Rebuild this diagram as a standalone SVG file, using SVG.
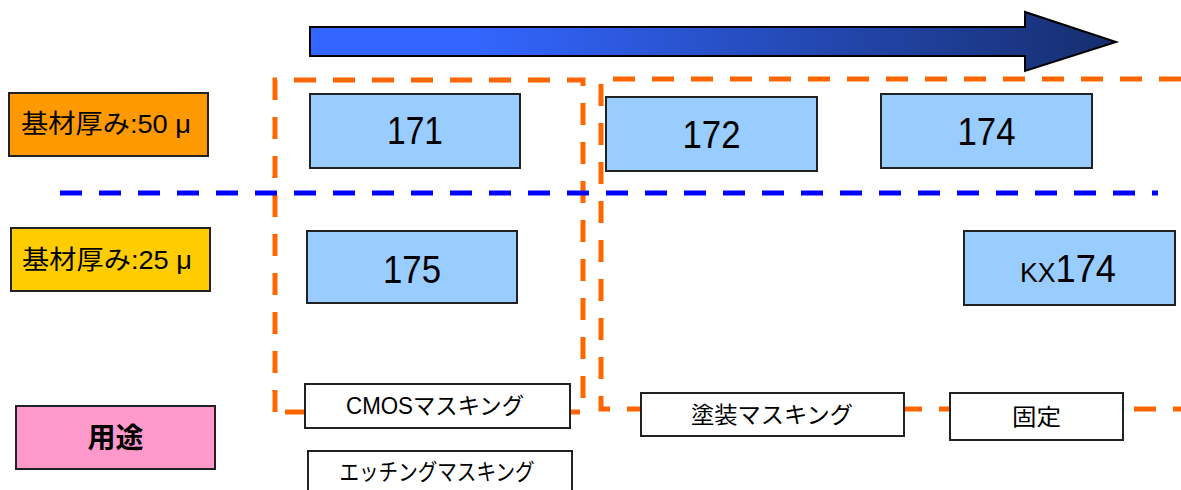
<svg xmlns="http://www.w3.org/2000/svg" width="1181" height="490" viewBox="0 0 1181 490">
<defs>
<linearGradient id="arrowGrad" x1="0" y1="0" x2="1" y2="0">
<stop offset="0" stop-color="#3366FF"/>
<stop offset="0.2" stop-color="#3366FF"/>
<stop offset="1" stop-color="#162E6E"/>
</linearGradient>
</defs>
<style>
.t{font-family:"Liberation Sans","Noto Sans CJK JP",sans-serif;fill:#000}
.num{font-size:38px;text-anchor:middle}
.blue{fill:#99CCFF;stroke:#222;stroke-width:2}
.use{fill:#FFFFFF;stroke:#222;stroke-width:2}
.lab{stroke:#222;stroke-width:2}
.od{fill:none;stroke:#FF6600;stroke-width:5;stroke-dasharray:22 17}
.bd{fill:none;stroke:#0000FF;stroke-width:5;stroke-dasharray:22 17}
.cj{font-size:23px;text-anchor:middle}
</style>
<g id="connectors">
<path class="od" d="M275,412 V80 H583 V412 H275"/>
<path class="od" d="M1181,79 H601 V409 H1181"/>
<path class="bd" d="M60,193 H1158"/>
</g>
<g id="arrow">
<path d="M310,27 H1025 V12 L1116,42 L1025,71 V56 H310 Z" fill="url(#arrowGrad)" stroke="#000" stroke-width="2"/>
</g>
<g id="label50">
<rect class="lab" x="9" y="93" width="199" height="63" fill="#FF9900"/>
<text class="t" x="21" y="133" font-size="26" textLength="170" lengthAdjust="spacingAndGlyphs">基材厚み:50 μ</text>
</g>
<g id="label25">
<rect class="lab" x="11" y="228" width="199" height="63" fill="#FFCC00"/>
<text class="t" x="22" y="269" font-size="26" textLength="170" lengthAdjust="spacingAndGlyphs">基材厚み:25 μ</text>
</g>
<g id="labelUse">
<rect class="lab" x="16" y="406" width="199" height="63" fill="#FF99CC"/>
<text class="t" x="115.5" y="448" font-size="28" font-weight="bold" text-anchor="middle" textLength="56" lengthAdjust="spacingAndGlyphs">用途</text>
</g>
<g id="n171">
<rect class="blue" x="310" y="94" width="210" height="74"/>
<text class="t num" x="415" y="144" textLength="56" lengthAdjust="spacingAndGlyphs">171</text>
</g>
<g id="n172">
<rect class="blue" x="606" y="97" width="211" height="74"/>
<text class="t num" x="711.5" y="148" textLength="58" lengthAdjust="spacingAndGlyphs">172</text>
</g>
<g id="n174">
<rect class="blue" x="881" y="94" width="211" height="74"/>
<text class="t num" x="986.5" y="145" textLength="58" lengthAdjust="spacingAndGlyphs">174</text>
</g>
<g id="n175">
<rect class="blue" x="307" y="231" width="210" height="72"/>
<text class="t num" x="412" y="283" textLength="58" lengthAdjust="spacingAndGlyphs">175</text>
</g>
<g id="nKX174">
<rect class="blue" x="964" y="231" width="211" height="74"/>
<text class="t" x="1020" y="282" textLength="96" lengthAdjust="spacingAndGlyphs"><tspan font-size="28">KX</tspan><tspan font-size="38">174</tspan></text>
</g>
<g id="uCMOS">
<rect class="use" x="305" y="384" width="265" height="44"/>
<text class="t cj" x="435" y="414" textLength="178" lengthAdjust="spacingAndGlyphs">CMOSマスキング</text>
</g>
<g id="uEtch">
<rect class="use" x="308" y="451" width="264" height="50"/>
<text class="t cj" x="437" y="480" textLength="195" lengthAdjust="spacingAndGlyphs">エッチングマスキング</text>
</g>
<g id="uPaint">
<rect class="use" x="641" y="393" width="263" height="43"/>
<text class="t cj" x="772" y="423" font-size="24" textLength="162" lengthAdjust="spacingAndGlyphs">塗装マスキング</text>
</g>
<g id="uFix">
<rect class="use" x="950" y="393" width="173" height="47"/>
<text class="t cj" x="1036.5" y="425" font-size="24" textLength="49" lengthAdjust="spacingAndGlyphs">固定</text>
</g>
</svg>
